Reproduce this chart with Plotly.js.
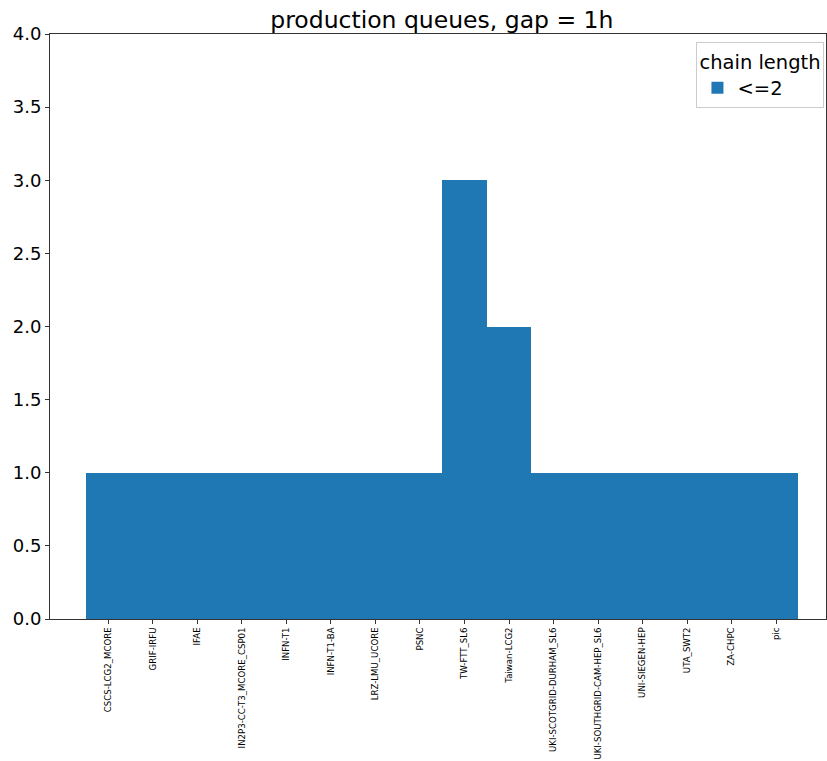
<!DOCTYPE html>
<html>
<head>
<meta charset="utf-8">
<script src="https://cdn.plot.ly/plotly-3.0.1.min.js"></script>
<style>html,body{margin:0;padding:0;background:#fff;}#chart{width:827px;height:761px;}</style>
</head>
<body>
<div id="chart"></div>
<script>
const queues = ["CSCS-LCG2_MCORE","GRIF-IRFU","IFAE","IN2P3-CC-T3_MCORE_CSP01","INFN-T1","INFN-T1-BA","LRZ-LMU_UCORE","PSNC","TW-FTT_SL6","Taiwan-LCG2","UKI-SCOTGRID-DURHAM_SL6","UKI-SOUTHGRID-CAM-HEP_SL6","UNI-SIEGEN-HEP","UTA_SWT2","ZA-CHPC","pic"];
const chainLE2 = [1,1,1,1,1,1,1,1,3,2,1,1,1,1,1,1];
const seriesName = "<=2";
const yTicks = [0,0.5,1,1.5,2,2.5,3,3.5,4];
const yTickText = ["0.0","0.5","1.0","1.5","2.0","2.5","3.0","3.5","4.0"];

const font = "DejaVu Sans, sans-serif";
const trace = {
  type: "bar",
  x: queues.map((q,i)=>i),
  y: chainLE2,
  name: seriesName,
  width: 1,
  marker: {color: "#1f77b4", line: {width: 0}},
  showlegend: true
};
const layout = {
  width: 827, height: 761,
  margin: {l: 50, r: 1, t: 34, b: 142, pad: 0},
  paper_bgcolor: "#fff", plot_bgcolor: "#fff",
  font: {family: font, color: "#000"},
  title: {text: "production queues, gap = 1h", font: {family: font, size: 23.5, color: "#000"},
          xref: "paper", x: 0.505, xanchor: "center", yref: "container", y: 1 - 20/761, yanchor: "middle"},
  bargap: 0,
  xaxis: {
    range: [-1.31, 16.12],
    tickmode: "array", tickvals: queues.map((q,i)=>i), ticktext: queues,
    tickangle: -90, tickfont: {family: font, size: 8.6, color: "#000"},
    ticks: "outside", ticklen: 4, tickcolor: "#333",
    showline: true, linecolor: "#333", linewidth: 1, mirror: true,
    showgrid: false, zeroline: false
  },
  yaxis: {
    range: [0, 4],
    tickmode: "array", tickvals: yTicks, ticktext: yTickText,
    tickfont: {family: font, size: 18, color: "#000"},
    ticks: "outside", ticklen: 4, tickcolor: "#333",
    showline: true, linecolor: "#333", linewidth: 1, mirror: true,
    showgrid: false, zeroline: false
  },
  legend: {
    x: 0.998, xanchor: "right", y: 0.986, yanchor: "top",
    bgcolor: "#fff", bordercolor: "#ccc", borderwidth: 1,
    font: {family: font, size: 19.5, color: "#000"},
    title: {text: "chain length", font: {family: font, size: 19.5, color: "#000"}, side: "top"}
  }
};
Plotly.newPlot("chart", [trace], layout, {displayModeBar: false, staticPlot: true});
</script>
</body>
</html>
